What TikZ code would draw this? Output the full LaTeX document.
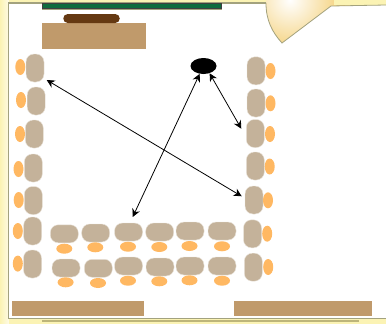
\documentclass[tikz,border=0pt]{standalone}
\usetikzlibrary{arrows.meta,shapes.geometric}
\definecolor{Paper}{HTML}{FBF3B4}
\definecolor{PaperSoft}{HTML}{FEFBE6}
\definecolor{Frame}{HTML}{A3A27E}
\definecolor{FrameLow}{HTML}{BDB57A}
\definecolor{Sun}{HTML}{F2C964}
\definecolor{Seat}{HTML}{C4B29A}
\definecolor{SeatEdge}{HTML}{E9E3D9}
\definecolor{Cushion}{HTML}{FFB862}
\definecolor{Desk}{HTML}{C09A6B}
\definecolor{Bench}{HTML}{653912}
\definecolor{Board}{HTML}{0F6B3E}
\tikzset{
 seatv/.style={draw=SeatEdge, line width=0.4pt, fill=Seat, rounded corners=8pt, minimum width=18pt, minimum height=28pt, inner sep=0pt},
 seath/.style={draw=SeatEdge, line width=0.4pt, fill=Seat, rounded corners=8pt, minimum width=28pt, minimum height=18pt, inner sep=0pt},
 cushv/.style={ellipse, fill=Cushion, minimum width=10pt, minimum height=16pt, inner sep=0pt},
 cushh/.style={ellipse, fill=Cushion, minimum width=16pt, minimum height=10pt, inner sep=0pt},
 desk/.style={fill=Desk, inner sep=0pt},
 link/.style={{Stealth[length=8pt,width=8pt]}-{Stealth[length=8pt,width=8pt]}, line width=0.8pt, draw=black}
}
\begin{document}
\begin{tikzpicture}[x=1pt,y=-1pt]
\useasboundingbox (0,0) rectangle (386,324);
% page and frame
\shade[left color=Paper, right color=PaperSoft] (0,0) rectangle (9,324);
\fill[Paper] (9,0) rectangle (386,5);
\fill[Paper] (9,319) rectangle (386,324);
\fill[white] (9,4) rectangle (386,318);
\draw[Frame, line width=1.2pt] (8.6,318.6) -- (8.6,3) -- (266,3);
\draw[Frame, line width=1.2pt] (8.6,318.6) -- (386,318.6);
\fill[FrameLow] (42,320) rectangle (359,322);
% sun corner
\begin{scope}
\clip (266,0) -- (266,3) .. controls (266,20) and (272,32) .. (282,43) -- (331,6) -- (386,5) -- (386,0) -- cycle;
\fill[Paper] (266,0) rectangle (386,6);
\shade[inner color=white, outer color=Sun] (290,0) circle (60);
\fill[Paper] (334,0) rectangle (386,5);
\end{scope}
\draw[Frame, line width=0.8pt] (266,3) .. controls (266,20) and (272,32) .. (282,43) -- (331,6) -- (386,5);
% board and tables
\fill[Frame] (42,3) rectangle (222,9.5);
\node[draw=black!75, line width=0.7pt, fill=Board, inner sep=0pt, minimum width=179pt, minimum height=5pt] (board) at (132,5.7) {};
\node[desk, minimum width=104pt, minimum height=26pt] (topdesk) at (94,36) {};
\node[fill=Bench, rounded corners=4.5pt, inner sep=0pt, minimum width=56.5pt, minimum height=9pt] (bench) at (91.5,18.5) {};
\node[desk, minimum width=132pt, minimum height=15pt] (lowdeska) at (78,308.5) {};
\node[desk, minimum width=138pt, minimum height=15pt] (lowdeskb) at (303,308.5) {};
% left column
\foreach \i/\sx/\sy/\cx/\cy in {1/35/68/20.3/67,2/36.2/101/21/100,3/34.3/134/20/134,4/33.3/168/18.5/169,5/33.3/200.5/18.7/200,6/32.7/231/17.8/231,7/32.5/264/17.8/263.6}{
 \node[seatv] (lseat\i) at (\sx,\sy) {};
 \node[cushv] (lcush\i) at (\cx,\cy) {};
}
% right column
\foreach \i/\sx/\sy/\cx/\cy in {1/256/70.8/270.5/71,2/256/103/270.5/103.3,3/255.3/133.5/270/134,4/255.3/166/269.7/166.5,5/254/200/268/200.3,6/252.5/233.8/267.2/233.7,7/253.3/267.2/268.2/267}{
 \node[seatv] (rseat\i) at (\sx,\sy) {};
 \node[cushv] (rcush\i) at (\cx,\cy) {};
}
% front row
\foreach \i/\sx/\sy/\cx/\cy in {1/64.3/233.8/64.3/248.7,2/95.7/233/95.3/247.3,3/128.5/232/128/246.7,4/159.7/232/159.3/247,5/190/231/189.5/246,6/222/231/222/246.3}{
 \node[seath] (fseat\i) at (\sx,\sy) {};
 \node[cushh] (fcush\i) at (\cx,\cy) {};
}
% back row
\foreach \i/\sx/\sy/\cx/\cy in {1/66/268/65.6/282.3,2/98.3/268.3/98/283,3/128.5/266/128/280.7,4/160/267/159.3/281.3,5/190/266/189.5/280.3,6/222/266/222/280.7}{
 \node[seath] (bseat\i) at (\sx,\sy) {};
 \node[cushh] (bcush\i) at (\cx,\cy) {};
}
% speaker and links
\node[ellipse, fill=black, inner sep=0pt, minimum width=26pt, minimum height=16pt] (speaker) at (203.5,66) {};
\coordinate (tipleft) at (46.7,80);
\coordinate (tipright) at (241.7,196.3);
\coordinate (tipfront) at (132.7,217);
\coordinate (tipcol) at (241.3,128.7);
\draw[link] (tipleft) -- (tipright);
\draw[link] (speaker.244.6) -- (tipfront);
\draw[link] (speaker.310.3) -- (tipcol);
\end{tikzpicture}
\end{document}
